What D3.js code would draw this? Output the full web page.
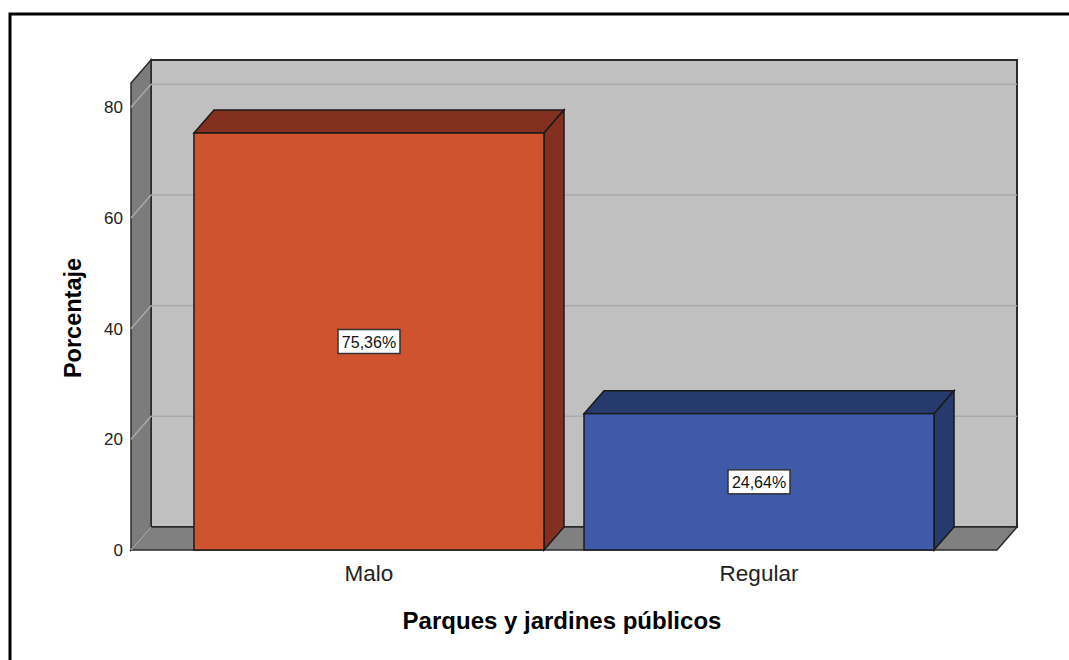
<!DOCTYPE html>
<html>
<head>
<meta charset="utf-8">
<script src="https://cdn.jsdelivr.net/npm/d3@7"></script>
<style>
  body { margin: 0; background: #fff; }
  text { font-family: "Liberation Sans", Arial, sans-serif; }
</style>
</head>
<body>
<div id="chart"></div>
<script>
const categories = ["Malo", "Regular"];
const percentages = [75.36, 24.64];
const valueLabels = ["75,36%", "24,64%"];
const yTicks = [0, 20, 40, 60, 80];

const main = function() {
  const width = 1069, height = 660;
  const depthX = 20, depthY = -23;
  const left = 131, right = 997, bottom = 550, top = 83;

  const svg = d3.select("#chart")
    .append("svg")
    .attr("width", width)
    .attr("height", height);

  // outer frame
  svg.append("rect")
    .attr("x", 10).attr("y", 14)
    .attr("width", width).attr("height", height)
    .style("fill", "none")
    .style("stroke", "#000")
    .style("stroke-width", 3);

  const y = d3.scaleLinear().domain([0, 84.4]).range([bottom, top]);
  const x = d3.scaleBand()
    .domain(categories)
    .range([left, right])
    .paddingInner(0.1026)
    .paddingOuter(0.1615);

  const pts = arr => arr.map(p => p.join(",")).join(" ");

  // back wall
  svg.append("rect")
    .attr("x", left + depthX).attr("y", top + depthY)
    .attr("width", right - left).attr("height", bottom - top)
    .style("fill", "#c0c0c0")
    .style("stroke", "#2b2b2b")
    .style("stroke-width", 2);

  // side wall
  svg.append("polygon")
    .attr("points", pts([[left, top], [left + depthX, top + depthY],
      [left + depthX, bottom + depthY], [left, bottom]]))
    .style("fill", "#7c7c7c")
    .style("stroke", "#2b2b2b")
    .style("stroke-width", 1.5);

  // grid lines on back wall and side wall
  yTicks.filter(t => t > 0).forEach(t => {
    svg.append("line")
      .attr("x1", left + depthX).attr("x2", right + depthX)
      .attr("y1", y(t) + depthY).attr("y2", y(t) + depthY)
      .style("stroke", "#a9a9a9").style("stroke-width", 1.5);
    svg.append("line")
      .attr("x1", left).attr("x2", left + depthX)
      .attr("y1", y(t)).attr("y2", y(t) + depthY)
      .style("stroke", "#a9a9a9").style("stroke-width", 1.5);
  });

  // floor
  svg.append("polygon")
    .attr("points", pts([[left, bottom], [left + depthX, bottom + depthY],
      [right + depthX, bottom + depthY], [right, bottom]]))
    .style("fill", "#808080")
    .style("stroke", "#2b2b2b")
    .style("stroke-width", 1.5);
  svg.append("line")
    .attr("x1", left).attr("x2", left + depthX)
    .attr("y1", bottom).attr("y2", bottom + depthY)
    .style("stroke", "#a9a9a9").style("stroke-width", 1.5);

  // tick labels
  svg.selectAll(".tick")
    .data(yTicks)
    .enter()
    .append("text")
    .attr("x", 123)
    .attr("y", t => y(t) + 6)
    .attr("text-anchor", "end")
    .style("font-size", "17px")
    .style("fill", "#222")
    .text(t => t);

  const fronts = ["#d0532f", "#3f5aa8"];
  const darks = ["#843020", "#263a6e"];

  categories.forEach((c, i) => {
    const x0 = x(c), x1 = x(c) + x.bandwidth();
    const yt = y(percentages[i]);
    const g = svg.append("g");
    g.append("polygon")
      .attr("points", pts([[x0, yt], [x0 + depthX, yt + depthY],
        [x1 + depthX, yt + depthY], [x1, yt]]))
      .style("fill", darks[i]).style("stroke", "#1a1a1a").style("stroke-width", 1.5);
    g.append("polygon")
      .attr("points", pts([[x1, yt], [x1 + depthX, yt + depthY],
        [x1 + depthX, bottom + depthY], [x1, bottom]]))
      .style("fill", darks[i]).style("stroke", "#1a1a1a").style("stroke-width", 1.5);
    g.append("rect")
      .attr("x", x0).attr("y", yt)
      .attr("width", x.bandwidth()).attr("height", bottom - yt)
      .style("fill", fronts[i]).style("stroke", "#1a1a1a").style("stroke-width", 1.5);

    const cx = x0 + x.bandwidth() / 2, cy = (yt + bottom) / 2;
    g.append("rect")
      .attr("x", cx - 31).attr("y", cy - 12)
      .attr("width", 62).attr("height", 24)
      .style("fill", "#fff").style("stroke", "#333").style("stroke-width", 1.5);
    g.append("text")
      .attr("x", cx).attr("y", cy + 6)
      .attr("text-anchor", "middle")
      .style("font-size", "16px")
      .style("fill", "#111")
      .text(valueLabels[i]);

    svg.append("text")
      .attr("x", cx).attr("y", 581)
      .attr("text-anchor", "middle")
      .style("font-size", "22.5px")
      .style("fill", "#222")
      .text(c);
  });

  // axis titles
  svg.append("text")
    .attr("x", (left + right) / 2 - 2).attr("y", 629)
    .attr("text-anchor", "middle")
    .style("font-size", "24px")
    .style("font-weight", "bold")
    .text("Parques y jardines públicos");

  svg.append("text")
    .attr("transform", "translate(81,318) rotate(-90)")
    .attr("text-anchor", "middle")
    .style("font-size", "23.5px")
    .style("font-weight", "bold")
    .text("Porcentaje");
};

window.onload = main;
</script>
</body>
</html>
